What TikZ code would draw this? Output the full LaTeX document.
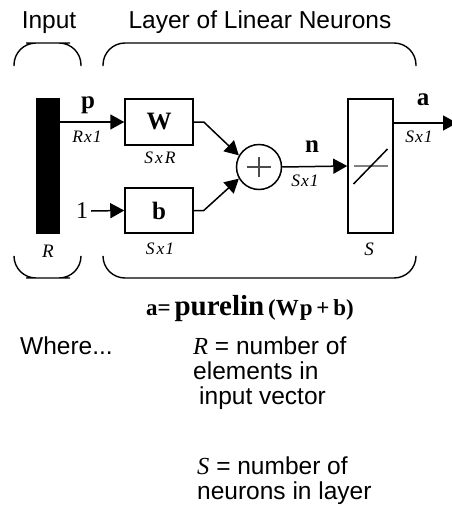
\documentclass[tikz,border=0pt]{standalone}
\usepackage{fontspec}
\setmainfont{Liberation Sans}
\newfontfamily\sernum{Liberation Serif}
\usetikzlibrary{arrows.meta, positioning, calc}

\tikzstyle{blk}    = [rectangle, draw=black, line width=1.5pt, fill=white,
                      font=\sernum\bfseries\fontsize{25}{28}\selectfont]
\tikzstyle{arr}    = [-{Triangle[length=14pt,width=15pt]}, line width=1.5pt]
\tikzstyle{dimlab} = [font=\sernum\itshape\fontsize{17.5}{18}\selectfont,
                      anchor=base, inner sep=0pt]
\tikzstyle{sig}    = [font=\sernum\bfseries\fontsize{25}{28}\selectfont,
                      anchor=base, inner sep=0pt]
\tikzstyle{txt}    = [font=\fontsize{24.5}{25}\selectfont, anchor=base west,
                      inner sep=0pt, align=left]
\tikzstyle{brace}  = [line width=1.4pt, rounded corners=22pt]

\begin{document}
\begin{tikzpicture}[x=1pt, y=-1pt]
  \useasboundingbox (0,0) rectangle (451,506);

  %% Headings and braces
  \node[txt, anchor=base] (hin)  at (49,28)  {Input};
  \node[txt, anchor=base] (hlay) at (260,28) {Layer of Linear Neurons};

  \draw[brace] (14,66)  |- (48,43)  -| (81,66);
  \draw[brace] (103,66) |- (260,43) -| (416,66);
  \draw[brace] (14,257)  |- (48,278)  -| (81,257);
  \draw[brace] (103,257) |- (260,278) -| (416,257);

  %% Input vector
  \node[rectangle, fill=black, minimum width=24pt, minimum height=136pt,
        inner sep=0pt] (bar) at (48,166) {};
  \node[dimlab, font=\sernum\itshape\fontsize{19}{21}\selectfont] (rlab) at (48,257) {R};

  %% Weight and bias
  \node[blk, minimum width=68pt, minimum height=46pt] (wbox) at (159,122) {W};
  \node[blk, minimum width=68pt, minimum height=45pt] (bbox) at (159,210.5) {b};
  \node[dimlab] (wdim) at (160,163) {S\kern2pt x\kern2pt R};
  \node[dimlab] (bdim) at (160,254) {S\kern2pt x\kern1pt 1};

  \node[font=\sernum\fontsize{24}{26}\selectfont, inner sep=3pt] (one) at (82,211) {1};

  \draw[arr] (bar.east |- wbox.west) -- (wbox.west);
  \node[sig] (plab) at (88,108) {p};
  \node[dimlab] (pdim) at (87,142) {R\kern1pt x\kern1pt 1};
  \draw[arr] (one.east) -- (bbox.west);

  %% Summing junction
  \node[circle, draw, line width=1.5pt, minimum size=45pt, inner sep=0pt] (sum) at (259,167) {};
  \draw[line width=1.5pt, black!70] ($(sum.center)+(-12,0)$) -- ($(sum.center)+(12,0)$);
  \draw[line width=1.5pt, black!70] ($(sum.center)+(0,-10)$) -- ($(sum.center)+(0,10)$);

  \draw[arr] (wbox.east) -- ++(10,0) -- (sum.150);
  \draw[arr] (bbox.east) -- ++(10,0) -- (sum.210);

  %% Transfer function
  \node[blk, minimum width=45pt, minimum height=134pt] (sbox) at (370.5,166) {};
  \draw[line width=1.2pt, gray] ($(sbox.center)+(-17,0)$) -- ($(sbox.center)+(17,0)$);
  \draw[line width=1.5pt] ($(sbox.center)+(-17,18)$) -- ($(sbox.center)+(17,-17)$);
  \node[dimlab, font=\sernum\itshape\fontsize{19}{21}\selectfont] (slab) at (369,255) {S};

  \draw[arr] (sum.east) -- (sbox.west);
  \node[sig] (nlab) at (312,152) {n};
  \node[dimlab] (ndim) at (305,186) {S\kern1pt x\kern1pt 1};

  \coordinate (aout) at (457,123);
  \draw[arr] (sbox.east |- aout) -- (aout);
  \node[sig] (alab) at (423,105) {a};
  \node[dimlab] (adim) at (419,142) {S\kern1pt x\kern1pt 1};

  %% Equation and legend
  \node[anchor=base, inner sep=0pt, font=\sernum\bfseries\fontsize{23}{26}\selectfont] (eqn) at (250,315)
      {a=\,{\fontsize{29}{30}\selectfont purelin}\,(W\kern1pt p\,+\,b)};

  \node[txt] (where) at (20,354) {Where...};
  \node[txt] (rdef) at (193,404)
      {{\sernum\itshape R} = number of\\elements in\\\hspace{6pt}input vector};
  \node[txt] (sdef) at (197,499)
      {{\sernum\itshape S} = number of\\neurons in layer};

\end{tikzpicture}
\end{document}
